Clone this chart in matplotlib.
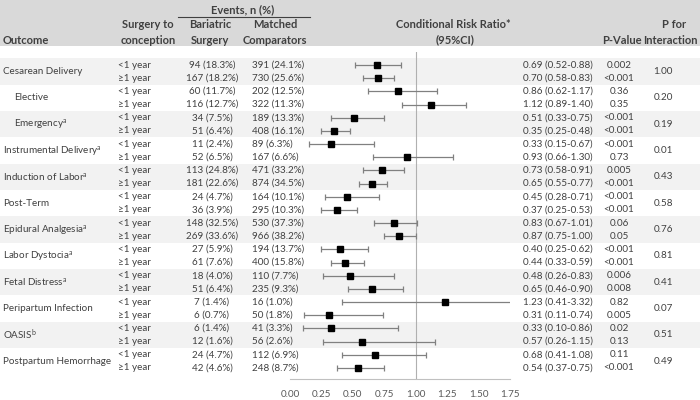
import matplotlib
matplotlib.use("Agg")
import matplotlib.pyplot as plt
from matplotlib.patches import Rectangle

plt.rcParams["font.family"] = ["Lato", "DejaVu Sans"]
plt.rcParams["mathtext.fontset"] = "custom"
plt.rcParams["mathtext.rm"] = "Lato"
plt.rcParams["mathtext.it"] = "Lato"

# Data
outcomes = ["Cesarean Delivery", "Elective", "Emergency", "Instrumental Delivery",
            "Induction of Labor", "Post-Term", "Epidural Analgesia", "Labor Dystocia",
            "Fetal Distress", "Peripartum Infection", "OASIS", "Postpartum Hemorrhage"]
superscript = ["", "", "a", "a", "a", "", "a", "a", "a", "", "b", ""]
indented = [False, True, True, False, False, False, False, False, False, False, False, False]
periods = ["<1 year", "\u22651 year"]

bariatric = ["94 (18.3%)", "167 (18.2%)", "60 (11.7%)", "116 (12.7%)", "34 (7.5%)", "51 (6.4%)",
             "11 (2.4%)", "52 (6.5%)", "113 (24.8%)", "181 (22.6%)", "24 (4.7%)", "36 (3.9%)",
             "148 (32.5%)", "269 (33.6%)", "27 (5.9%)", "61 (7.6%)", "18 (4.0%)", "51 (6.4%)",
             "7 (1.4%)", "6 (0.7%)", "6 (1.4%)", "12 (1.6%)", "24 (4.7%)", "42 (4.6%)"]
matched = ["391 (24.1%)", "730 (25.6%)", "202 (12.5%)", "322 (11.3%)", "189 (13.3%)", "408 (16.1%)",
           "89 (6.3%)", "167 (6.6%)", "471 (33.2%)", "874 (34.5%)", "164 (10.1%)", "295 (10.3%)",
           "530 (37.3%)", "966 (38.2%)", "194 (13.7%)", "400 (15.8%)", "110 (7.7%)", "235 (9.3%)",
           "16 (1.0%)", "50 (1.8%)", "41 (3.3%)", "56 (2.6%)", "112 (6.9%)", "248 (8.7%)"]

rr = [0.69, 0.70, 0.86, 1.12, 0.51, 0.35, 0.33, 0.93, 0.73, 0.65, 0.45, 0.37,
      0.83, 0.87, 0.40, 0.44, 0.48, 0.65, 1.23, 0.31, 0.33, 0.57, 0.68, 0.54]
ci_lo = [0.52, 0.58, 0.62, 0.89, 0.33, 0.25, 0.15, 0.66, 0.58, 0.55, 0.28, 0.25,
         0.67, 0.75, 0.25, 0.33, 0.26, 0.46, 0.41, 0.11, 0.10, 0.26, 0.41, 0.37]
ci_hi = [0.88, 0.83, 1.17, 1.40, 0.75, 0.48, 0.67, 1.30, 0.91, 0.77, 0.71, 0.53,
         1.01, 1.00, 0.62, 0.59, 0.83, 0.90, 3.32, 0.74, 0.86, 1.15, 1.08, 0.75]
p_values = ["0.002", "<0.001", "0.36", "0.35", "<0.001", "<0.001", "<0.001", "0.73",
            "0.005", "<0.001", "<0.001", "<0.001", "0.06", "0.05", "<0.001", "<0.001",
            "0.006", "0.008", "0.82", "0.005", "0.02", "0.13", "0.11", "<0.001"]
p_interaction = ["1.00", "0.20", "0.19", "0.01", "0.43", "0.58", "0.76", "0.81",
                 "0.41", "0.07", "0.51", "0.49"]
xticks = [0.00, 0.25, 0.50, 0.75, 1.00, 1.25, 1.50, 1.75]

TXT = "#404040"
HEAD_BG = "#d9d9d9"
BAND = "#f2f2f2"
FS = 7.1
HFS = 8.0

ROW0, STEP = 65, 13.17


def ypix(i):
    return ROW0 + STEP * i


fig = plt.figure(figsize=(7, 4), dpi=100)
bg = fig.add_axes([0, 0, 1, 1])
bg.set_xlim(0, 700)
bg.set_ylim(400, 0)
bg.axis("off")

# header
bg.add_patch(Rectangle((0, 0), 700, 46, color=HEAD_BG, lw=0))
hd = dict(fontsize=HFS, fontweight="bold", color=TXT, va="center")
bg.text(3, 40, "Outcome", ha="left", **hd)
bg.text(148, 25, "Surgery to", ha="center", **hd)
bg.text(148, 40, "conception", ha="center", **hd)
bg.text(243, 10, "Events, n (%)", ha="center", **hd)
bg.plot([178, 310], [17, 17], color=TXT, lw=0.8)
bg.text(210, 25, "Bariatric", ha="center", **hd)
bg.text(210, 40, "Surgery", ha="center", **hd)
bg.text(275, 25, "Matched", ha="center", **hd)
bg.text(275, 40, "Comparators", ha="center", **hd)
bg.text(453, 25, "Conditional Risk Ratio*", ha="center", **hd)
bg.text(455, 40, "(95%CI)", ha="center", **hd)
bg.text(622, 40, "P-Value", ha="center", **hd)
bg.text(674, 25, "P for", ha="center", **hd)
bg.text(698, 40, "Interaction", ha="right", **hd)

# body
tx = dict(fontsize=FS, color=TXT, va="center")
for g, name in enumerate(outcomes):
    top = ypix(2 * g) - STEP / 2
    if g % 2 == 0:
        bg.add_patch(Rectangle((0, top), 700, 2 * STEP, color=BAND, lw=0))
    yc = top + STEP
    label = name + (r"$^{\mathrm{%s}}$" % superscript[g] if superscript[g] else "")
    bg.text(14 if indented[g] else 3, yc, label, ha="left", **tx)
    bg.text(663, yc, p_interaction[g], ha="center", **tx)

for i in range(len(rr)):
    y = ypix(i)
    bg.text(118, y, periods[i % 2], ha="left", **tx)
    bg.text(212, y, bariatric[i], ha="center", **tx)
    bg.text(252, y, matched[i], ha="left", **tx)
    bg.text(523, y, "%.2f (%.2f-%.2f)" % (rr[i], ci_lo[i], ci_hi[i]), ha="left", **tx)
    bg.text(619, y, p_values[i], ha="center", **tx)

# forest plot
ax = fig.add_axes([290 / 700, (400 - 379) / 400, 220 / 700, (379 - 52) / 400])
ax.patch.set_alpha(0)
ax.set_xlim(0, 1.75)
ax.set_ylim((379 - ROW0) / STEP, (52 - ROW0) / STEP)
rows = list(range(len(rr)))
ax.errorbar(rr, rows,
            xerr=[[r - l for r, l in zip(rr, ci_lo)], [h - r for r, h in zip(rr, ci_hi)]],
            fmt="s", ms=3.8, mfc="black", mec="black", ecolor="#808080",
            elinewidth=0.9, capsize=2.2, capthick=0.9)
ax.axvline(1.0, color="#b0b0b0", lw=0.8, zorder=0)
for s in ["top", "right", "left"]:
    ax.spines[s].set_visible(False)
ax.spines["bottom"].set_color("#c0c0c0")
ax.spines["bottom"].set_linewidth(0.8)
ax.set_yticks([])
ax.set_xticks(xticks)
ax.set_xticklabels(["%.2f" % t for t in xticks])
ax.tick_params(axis="x", length=0, pad=8, labelsize=FS, labelcolor="#595959")

fig.savefig("out.png", dpi=100)
